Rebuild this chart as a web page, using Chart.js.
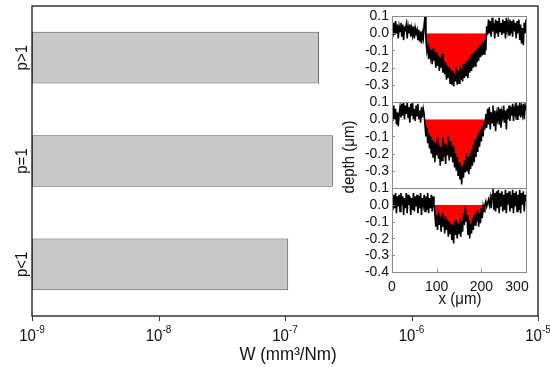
<!DOCTYPE html>
<html><head><meta charset="utf-8">
<script src="https://cdn.jsdelivr.net/npm/chart.js@4.4.0/dist/chart.umd.min.js"></script>
<style>
html,body{margin:0;padding:0;background:#fff;}
#wrap{position:relative;width:550px;height:367px;overflow:hidden;}
canvas{position:absolute;left:0;top:0;}
</style></head><body>
<div id="wrap">
<canvas id="main" width="550" height="367"></canvas>
<canvas id="in1" width="550" height="367"></canvas>
<canvas id="in2" width="550" height="367"></canvas>
<canvas id="in3" width="550" height="367"></canvas>
</div>
<script>
// ---- main chart data ----
const categories = ['p>1', 'p=1', 'p<1'];
const wearRates = [1.86e-7, 2.39e-7, 1.06e-7];
const wDecades = [1e-9, 1e-8, 1e-7, 1e-6, 1e-5];
const wExponents = ['-9', '-8', '-7', '-6', '-5'];

// ---- inset profile data (x in µm, depth in µm) ----
const profileX = [0,2,4,6,8,10,12,14,16,18,20,22,24,26,28,30,32,34,36,38,40,42,44,46,48,50,52,54,56,58,60,62,64,66,68,70,72,74,76,78,80,82,84,86,88,90,92,94,96,98,100,102,104,106,108,110,112,114,116,118,120,122,124,126,128,130,132,134,136,138,140,142,144,146,148,150,152,154,156,158,160,162,164,166,168,170,172,174,176,178,180,182,184,186,188,190,192,194,196,198,200,202,204,206,208,210,212,214,216,218,220,222,224,226,228,230,232,234,236,238,240,242,244,246,248,250,252,254,256,258,260,262,264,266,268,270,272,274,276,278,280,282,284,286,288,290,292,294,296,298,300];
const profileTop = [
0.03,-0.02,0.06,-0.01,0.07,0.0,0.05,-0.03,0.04,0.01,0.06,-0.02,0.05,-0.04,0.03,0.02,0.05,-0.03,0.04,0.0,0.05,-0.02,0.03,-0.01,0.04,-0.03,0.03,0.0,0.02,-0.04,0.02,-0.05,0.01,-0.06,0.0,-0.03,0.05,0.1,
-0.04,-0.1,-0.06,-0.15,-0.08,-0.14,-0.1,-0.18,-0.09,-0.16,
-0.12,-0.2,-0.11,-0.19,-0.13,-0.22,-0.14,-0.2,-0.12,-0.23,
-0.16,-0.24,-0.17,-0.27,-0.19,-0.26,-0.2,-0.29,-0.21,-0.3,
-0.22,-0.31,-0.23,-0.28,-0.2,-0.3,-0.22,-0.29,-0.19,-0.27,
-0.21,-0.28,-0.18,-0.26,-0.17,-0.25,-0.16,-0.26,-0.15,-0.23,
-0.13,-0.22,-0.12,-0.2,-0.11,-0.19,-0.1,-0.17,-0.08,-0.16,
-0.07,-0.14,-0.06,-0.13,-0.05,-0.12,-0.04,-0.1,
0.04,-0.01,0.08,0.0,0.07,-0.02,0.09,0.01,0.06,-0.03,
0.08,0.0,0.07,-0.02,0.09,0.01,0.06,-0.01,0.08,0.0,
0.07,-0.03,0.09,0.02,0.06,-0.01,0.08,0.0,0.07,-0.02,
0.08,0.01,0.06,-0.03,0.07,0.0,0.08,-0.04,0.05,-0.06,
0.03,-0.07,0.06,0.0,0.08];
const profileMid = [
0.05,-0.01,0.08,0.0,0.06,-0.03,0.04,-0.04,0.03,0.07,
0.01,0.09,0.02,0.1,0.0,0.08,0.03,0.1,0.01,0.07,
-0.02,0.09,0.02,0.1,0.0,0.06,-0.01,0.08,0.02,0.09,
0.0,0.05,-0.02,0.07,0.01,0.06,0.03,
-0.04,-0.1,-0.05,-0.14,-0.08,-0.17,-0.1,-0.2,-0.12,-0.22,
-0.13,-0.25,-0.14,-0.21,-0.1,-0.23,-0.15,-0.27,-0.16,-0.24,
-0.11,-0.22,-0.14,-0.26,-0.15,-0.21,-0.1,-0.24,-0.13,-0.22,
-0.16,-0.25,-0.15,-0.28,-0.2,-0.3,-0.22,-0.33,-0.25,-0.35,
-0.28,-0.38,-0.27,-0.34,-0.24,-0.31,-0.2,-0.3,-0.22,-0.32,
-0.2,-0.29,-0.18,-0.27,-0.15,-0.25,-0.12,-0.22,-0.1,-0.19,
-0.08,-0.16,-0.06,-0.13,-0.04,-0.1,-0.02,-0.06,
0.03,-0.05,0.06,-0.03,0.07,-0.06,0.04,-0.02,0.08,-0.04,
0.05,-0.07,0.03,0.0,0.07,-0.03,0.06,-0.05,0.04,0.01,
0.08,-0.02,0.05,-0.06,0.06,0.0,0.08,-0.01,0.07,0.02,
0.09,-0.01,0.06,0.03,0.1,0.0,0.08,0.02,0.1,0.01,
0.07,0.03,0.09,0.0,0.08,0.05];
const profileBot = [
0.04,-0.03,0.06,-0.02,0.07,-0.05,0.05,-0.01,0.06,-0.04,
0.07,0.0,0.05,-0.06,0.04,-0.02,0.07,-0.05,0.06,0.0,
0.05,-0.06,0.04,-0.03,0.07,-0.04,0.05,-0.01,0.06,-0.05,
0.05,-0.02,0.07,-0.06,0.04,0.0,0.06,-0.04,0.05,-0.03,
0.07,-0.05,0.04,-0.02,0.06,-0.04,0.05,0.0,
-0.05,-0.13,-0.06,-0.15,-0.04,-0.12,-0.07,-0.16,-0.05,-0.13,
-0.08,-0.17,-0.07,-0.15,-0.09,-0.19,-0.1,-0.17,-0.11,-0.21,
-0.12,-0.23,-0.1,-0.18,-0.09,-0.2,-0.11,-0.17,-0.08,-0.19,
-0.1,-0.16,-0.05,-0.12,-0.01,-0.1,-0.06,-0.18,-0.09,-0.2,
-0.11,-0.17,-0.08,-0.15,-0.06,-0.12,-0.04,-0.1,-0.03,-0.13,
-0.05,-0.11,-0.02,-0.08,-0.01,-0.04,0.0,
0.02,-0.01,0.01,0.03,0.0,0.04,-0.02,0.06,0.1,-0.03,
0.07,-0.04,0.08,-0.02,0.09,-0.05,0.07,-0.01,0.08,-0.04,
0.06,-0.03,0.09,-0.05,0.07,0.0,0.08,-0.04,0.06,-0.02,
0.09,-0.05,0.07,-0.01,0.08,-0.04,0.06,-0.03,0.09,-0.05,
0.07,0.0,0.08,-0.04,0.06,0.02];
const depthTicks = [0.1, 0.0, -0.1, -0.2, -0.3, -0.4];
const xTicks = [0, 100, 200, 300];

const FONT = '"Liberation Sans", Arial, sans-serif';

// draws text slightly stretched vertically (the reference glyphs are taller than wide)
function tallText(ctx, txt, x, y, size, sy) {
  ctx.save();
  ctx.translate(x, y);
  ctx.scale(1, sy);
  ctx.font = size + 'px ' + FONT;
  ctx.fillText(txt, 0, 0);
  ctx.restore();
}

// ---- main chart ----
const mainAxes = {
  id: 'mainAxes',
  afterDraw(chart) {
    const ctx = chart.ctx, a = chart.chartArea;
    const xs = chart.scales.x, ys = chart.scales.y;
    ctx.save();
    ctx.strokeStyle = '#333';
    ctx.lineWidth = 1.5;
    ctx.strokeRect(a.left, a.top, a.right - a.left, a.bottom - a.top);
    // ticks from the log scale
    ctx.lineWidth = 1;
    ctx.beginPath();
    xs.ticks.forEach(t => {
      const v = t.value;
      const px = Math.round(xs.getPixelForValue(v)) + 0.5;
      const lg = Math.log10(v);
      const major = Math.abs(lg - Math.round(lg)) < 1e-6;
      ctx.moveTo(px, a.bottom);
      ctx.lineTo(px, a.bottom + (major ? 5 : 3));
    });
    ctx.stroke();
    // decade labels
    ctx.fillStyle = '#111';
    ctx.textBaseline = 'alphabetic';
    ctx.textAlign = 'left';
    wDecades.forEach((v, i) => {
      const px = xs.getPixelForValue(v);
      ctx.font = '15px ' + FONT;
      const w1 = ctx.measureText('10').width;
      ctx.font = '10px ' + FONT;
      const w2 = ctx.measureText(wExponents[i]).width;
      const x0 = px - (w1 + w2) / 2;
      tallText(ctx, '10', x0, 341, 15, 1.12);
      tallText(ctx, wExponents[i], x0 + w1, 333, 10, 1.12);
    });
    // axis title
    ctx.textAlign = 'center';
    tallText(ctx, 'W (mm³/Nm)', 288, 360, 17, 1.08);
    // category labels (rotated)
    ctx.font = '15px ' + FONT;
    categories.forEach((c, i) => {
      const py = ys.getPixelForValue(i);
      ctx.save();
      ctx.translate(22, py);
      ctx.rotate(-Math.PI / 2);
      ctx.scale(1, 1.1);
      ctx.textAlign = 'center';
      ctx.textBaseline = 'middle';
      ctx.fillText(c, 0, 0);
      ctx.restore();
    });
    ctx.restore();
  }
};

new Chart(document.getElementById('main'), {
  type: 'bar',
  data: {
    labels: categories,
    datasets: [{
      data: wearRates,
      backgroundColor: '#c8c8c8',
      borderColor: '#555',
      borderWidth: 1,
      borderSkipped: false,
      barPercentage: 0.5,
      categoryPercentage: 1
    }]
  },
  options: {
    indexAxis: 'y',
    responsive: false,
    animation: false,
    devicePixelRatio: 1,
    layout: { padding: { left: 32, right: 12, top: 6, bottom: 51 } },
    plugins: { legend: { display: false }, tooltip: { enabled: false } },
    scales: {
      x: { type: 'logarithmic', min: 1e-9, max: 1e-5, display: false },
      y: { type: 'category', display: false, offset: true }
    }
  },
  plugins: [mainAxes]
});

// ---- inset profiles ----
function makeProfile(id, data, top, bottom, isBottom, showTitle) {
  const insetAxes = {
    id: 'insetAxes' + id,
    afterDraw(chart) {
      const ctx = chart.ctx, a = chart.chartArea;
      const xs = chart.scales.x, ys = chart.scales.y;
      ctx.save();
      ctx.strokeStyle = '#8a8a8a';
      ctx.lineWidth = 1;
      ctx.strokeRect(Math.round(a.left) + 0.5, Math.round(a.top) + 0.5,
        Math.round(a.right - a.left), Math.round(a.bottom - a.top));
      ctx.fillStyle = '#111';
      ctx.textAlign = 'right';
      ctx.textBaseline = 'middle';
      ctx.beginPath();
      depthTicks.forEach(v => {
        const py = ys.getPixelForValue(v);
        if (v > -0.35 || isBottom) tallText(ctx, v.toFixed(1), a.left - 3, py, 14, 1.1);
        ctx.moveTo(a.left, Math.round(py) + 0.5);
        ctx.lineTo(a.left + 3, Math.round(py) + 0.5);
      });
      if (isBottom) {
        ctx.textAlign = 'center';
        ctx.textBaseline = 'alphabetic';
        xTicks.forEach(v => {
          const px = xs.getPixelForValue(v);
          tallText(ctx, String(v), Math.min(px, a.right - 9), a.bottom + 19, 14, 1.1);
          ctx.moveTo(Math.round(px) + 0.5, a.bottom);
          ctx.lineTo(Math.round(px) + 0.5, a.bottom - 3);
        });
        tallText(ctx, 'x (\u03bcm)', (a.left + a.right) / 2 + 1, a.bottom + 32, 15, 1.08);
      }
      ctx.stroke();
      if (showTitle) {
        ctx.save();
        ctx.translate(350, 157);
        ctx.rotate(-Math.PI / 2);
        ctx.scale(1, 1.08);
        ctx.textAlign = 'center';
        ctx.textBaseline = 'middle';
        ctx.font = '15px ' + FONT;
        ctx.fillText('depth (\u03bcm)', 0, 0);
        ctx.restore();
      }
      ctx.restore();
    }
  };
  new Chart(document.getElementById(id), {
    type: 'line',
    data: {
      labels: profileX,
      datasets: [{
        data: data,
        borderColor: '#000',
        borderWidth: 1.6,
        pointRadius: 0,
        tension: 0,
        fill: { target: { value: 0 }, above: 'rgba(0,0,0,0)', below: '#ff0000' }
      }]
    },
    options: {
      responsive: false,
      animation: false,
      devicePixelRatio: 1,
      layout: { padding: { left: 392, right: 24, top: top, bottom: 367 - bottom } },
      plugins: { legend: { display: false }, tooltip: { enabled: false } },
      scales: {
        x: { type: 'linear', min: 0, max: 300, display: false },
        y: { type: 'linear', min: -0.4, max: 0.1, display: false }
      }
    },
    plugins: [insetAxes]
  });
}
makeProfile('in1', profileTop, 16, 102, false, false);
makeProfile('in2', profileMid, 102, 188, false, true);
makeProfile('in3', profileBot, 188, 272, true, false);
</script>
</body></html>
